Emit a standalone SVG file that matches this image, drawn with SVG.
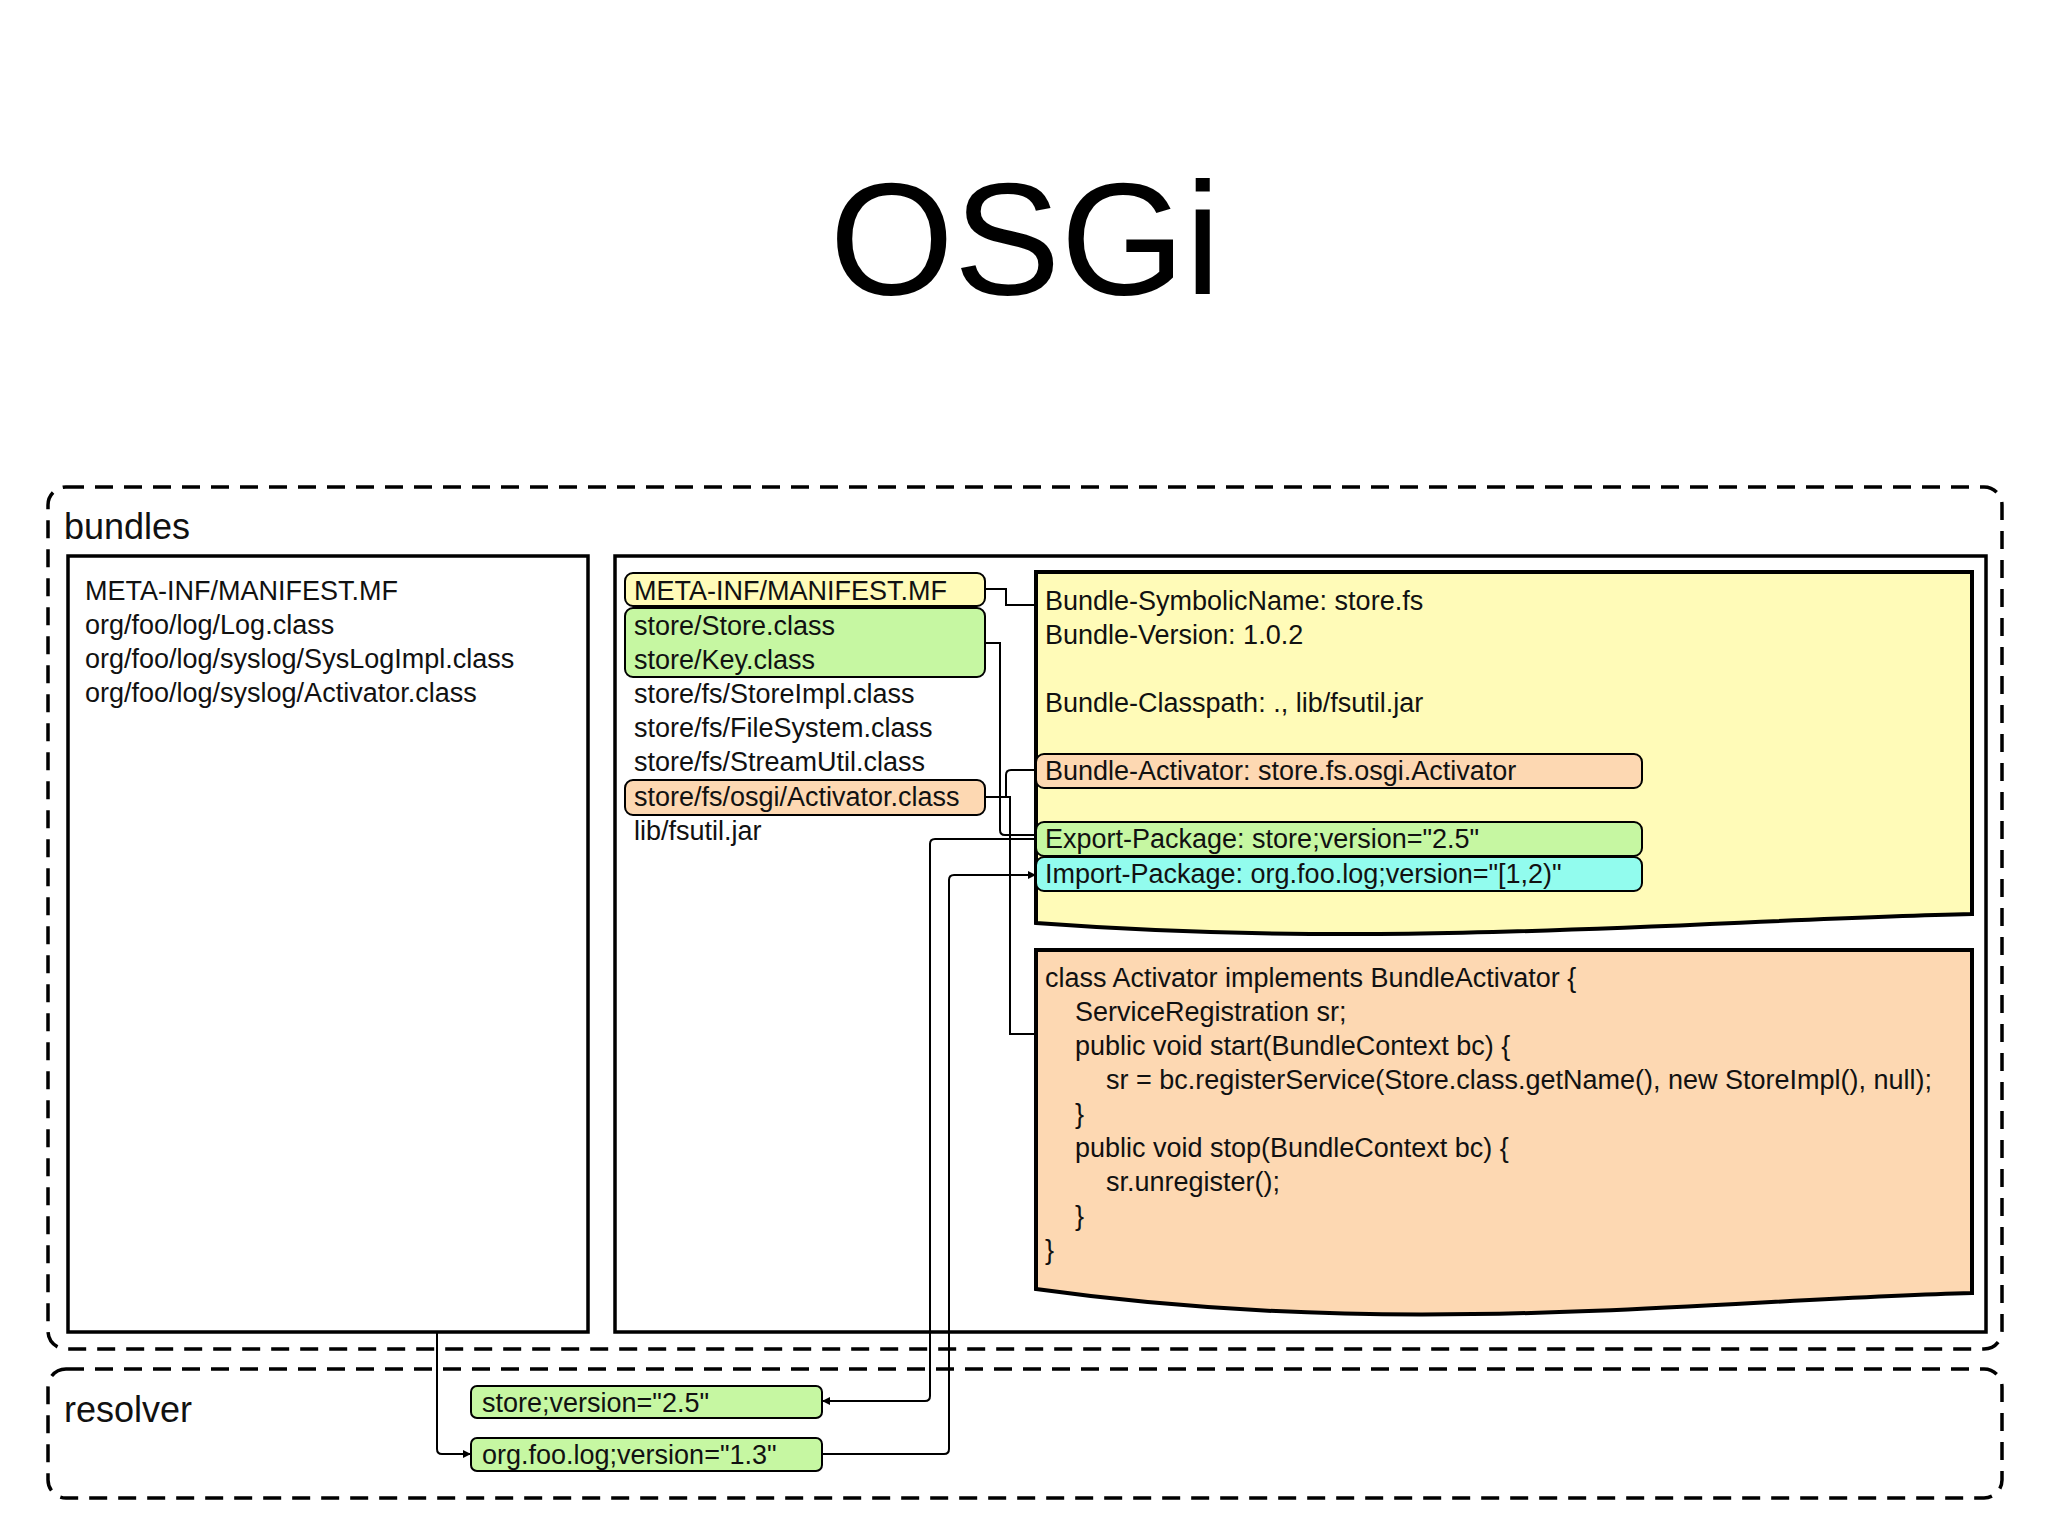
<svg xmlns="http://www.w3.org/2000/svg" width="2048" height="1536" viewBox="0 0 2048 1536">
<defs>
<marker id="ah" viewBox="0 0 10 10" refX="10" refY="5" markerWidth="8" markerHeight="8" markerUnits="userSpaceOnUse" orient="auto"><path d="M0,0 L10,5 L0,10 z" fill="#000"/></marker>
</defs>
<style>
text{font-family:"Liberation Sans",Arial,sans-serif;font-size:27px;fill:#111}
.dash{fill:none;stroke:#000;stroke-width:3.5;stroke-dasharray:18 11}
.box{fill:#fff;stroke:#000;stroke-width:3.5}
.tag{stroke:#000;stroke-width:2}
.y{fill:#FFFBB8}.g{fill:#C6F7A2}.o{fill:#FDD8B2}.c{fill:#92FCEE}
.doc{stroke:#000;stroke-width:4}
.con path{fill:none;stroke:#000;stroke-width:2}
</style>
<rect width="2048" height="1536" fill="#fff"/>
<text x="1025" y="294" text-anchor="middle" style="font-size:160px;fill:#000">OSGi</text>

<g id="bundles">
<rect class="dash" x="48" y="487" width="1954" height="862" rx="18"/>
<text x="64" y="539" style="font-size:36px">bundles</text>
</g>

<g id="log-bundle">
<rect class="box" x="68" y="556" width="520" height="776"/>
<text x="85" y="600">META-INF/MANIFEST.MF</text>
<text x="85" y="634">org/foo/log/Log.class</text>
<text x="85" y="668">org/foo/log/syslog/SysLogImpl.class</text>
<text x="85" y="702">org/foo/log/syslog/Activator.class</text>
</g>

<g id="store-bundle">
<rect class="box" x="615" y="556" width="1371" height="776"/>
<rect class="tag y" x="625" y="573" width="360" height="33" rx="8"/>
<text x="634" y="600">META-INF/MANIFEST.MF</text>
<rect class="tag g" x="625" y="608" width="360" height="69" rx="8"/>
<text x="634" y="635">store/Store.class</text>
<text x="634" y="669">store/Key.class</text>
<text x="634" y="703">store/fs/StoreImpl.class</text>
<text x="634" y="737">store/fs/FileSystem.class</text>
<text x="634" y="771">store/fs/StreamUtil.class</text>
<rect class="tag o" x="625" y="780" width="360" height="35" rx="8"/>
<text x="634" y="806">store/fs/osgi/Activator.class</text>
<text x="634" y="840">lib/fsutil.jar</text>
</g>

<g id="manifest">
<path class="doc y" d="M1036,572 L1972,572 L1972,914 C1700,920 1400,950 1036,923 Z"/>
<text x="1045" y="610">Bundle-SymbolicName: store.fs</text>
<text x="1045" y="644">Bundle-Version: 1.0.2</text>
<text x="1045" y="712">Bundle-Classpath: ., lib/fsutil.jar</text>
<rect class="tag o" x="1036" y="754" width="606" height="34" rx="8"/>
<text x="1045" y="780">Bundle-Activator: store.fs.osgi.Activator</text>
<rect class="tag g" x="1036" y="822" width="606" height="34" rx="8"/>
<text x="1045" y="848">Export-Package: store;version="2.5"</text>
<rect class="tag c" x="1036" y="857" width="606" height="34" rx="8"/>
<text x="1045" y="883">Import-Package: org.foo.log;version="[1,2)"</text>
</g>

<g id="activator-code">
<path class="doc o" d="M1036,950 L1972,950 L1972,1293 C1700,1300 1400,1340 1036,1289 Z"/>
<text x="1045" y="987">class Activator implements BundleActivator {</text>
<text x="1075" y="1021">ServiceRegistration sr;</text>
<text x="1075" y="1055">public void start(BundleContext bc) {</text>
<text x="1106" y="1089">sr = bc.registerService(Store.class.getName(), new StoreImpl(), null);</text>
<text x="1075" y="1123">}</text>
<text x="1075" y="1157">public void stop(BundleContext bc) {</text>
<text x="1106" y="1191">sr.unregister();</text>
<text x="1075" y="1225">}</text>
<text x="1045" y="1259">}</text>
</g>

<g id="resolver">
<rect class="dash" x="48" y="1369" width="1954" height="129" rx="18"/>
<text x="64" y="1422" style="font-size:36px">resolver</text>
<rect class="tag g" x="471" y="1386" width="351" height="32" rx="6"/>
<text x="482" y="1412">store;version="2.5"</text>
<rect class="tag g" x="471" y="1438" width="351" height="33" rx="6"/>
<text x="482" y="1464">org.foo.log;version="1.3"</text>
</g>

<g id="connectors" class="con">
<path d="M985,589 H1006 V605 H1036"/>
<path d="M985,643 H1000 V830 Q1000,835 1005,835 H1036"/>
<path d="M985,797 H1006 V775 Q1006,770 1011,770 H1036"/>
<path d="M1006,797 H1010 V1034 H1036"/>
<path d="M1036,839 H935 Q930,839 930,844 V1396 Q930,1401 925,1401 H822" marker-end="url(#ah)"/>
<path d="M822,1454 H944 Q949,1454 949,1449 V880 Q949,875 954,875 H1036" marker-end="url(#ah)"/>
<path d="M437,1332 V1449 Q437,1454 442,1454 H471" marker-end="url(#ah)"/>
</g>
</svg>
